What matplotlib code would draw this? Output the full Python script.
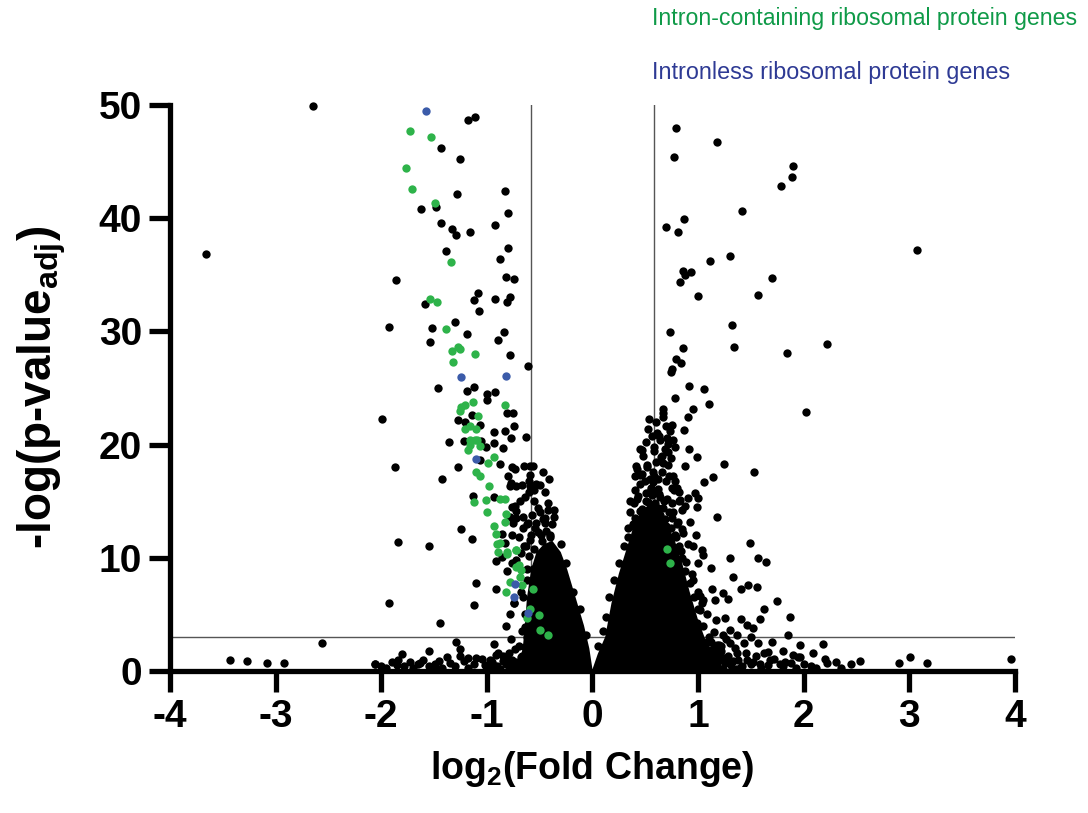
import matplotlib
matplotlib.use("Agg")
import matplotlib.pyplot as plt

plt.rcParams['font.family'] = ['Liberation Sans', 'DejaVu Sans']
plt.rcParams['mathtext.fontset'] = 'custom'
plt.rcParams['mathtext.rm'] = 'Liberation Sans:bold'
plt.rcParams['mathtext.bf'] = 'Liberation Sans:bold'
plt.rcParams['mathtext.default'] = 'bf'
plt.rcParams['axes.unicode_minus'] = False

# --- datos ---
# genes de proteinas ribosomales con intron (verde)
green_x = [-1.725, -1.53, -1.77, -1.71, -1.49, -1.34, -1.54, -1.47, -1.39, -1.33, -1.27, -1.25,
           -1.11, -1.32, -1.13, -1.25, -1.24, -1.21, -0.83, -1.08, -1.16, -1.10, -1.21, -1.16,
           -1.11, -1.09, -1.16, -1.065, -1.18, -0.93, -0.99, -1.10, -1.065, -0.98, -1.12, -1.01,
           -0.88, -0.83, -1.00, -0.82, -0.83, -0.93, -0.91, -0.90, -0.89, -0.81, -0.725, -0.70,
           -0.68, -0.78, -0.67, -0.82, -0.56, -0.59, -0.62, -0.51, -0.875, -0.81, -0.72, -0.69,
           -0.50, -0.42, -0.72, 0.73, 0.71]
green_y = [47.7, 47.2, 44.4, 42.6, 41.3, 36.1, 32.9, 32.6, 30.2, 28.3, 28.6, 28.4,
           28.0, 27.3, 23.8, 23.0, 23.3, 23.5, 23.5, 22.5, 21.6, 21.4, 21.4, 20.4,
           20.4, 20.4, 20.0, 19.9, 19.5, 18.9, 18.4, 17.6, 17.2, 16.3, 14.9, 15.1,
           15.2, 15.2, 14.0, 13.9, 13.2, 12.8, 12.1, 11.2, 10.5, 10.5, 10.7, 9.4,
           8.9, 7.9, 7.6, 6.95, 7.2, 5.5, 4.65, 4.95, 11.3, 10.3, 10.7, 8.3,
           3.6, 3.2, 9.2, 9.5, 10.8]

# genes sin intron (azul)
blue_x = [-1.58, -1.24, -0.815, -1.10, -0.73, -0.74, -0.61]
blue_y = [49.5, 26.0, 26.1, 18.7, 7.7, 6.5, 5.1]

# resto de genes (negro)
black_x = [-2.65, -3.66, -1.18, -1.11, -1.43, -1.25, -1.28, -0.83, -1.48, -1.62, -0.80, -1.43,
           -1.33, -1.29, -1.16, -0.92, -1.39, -0.80, -0.88, -1.86, -0.82, -0.74, -1.08, -1.125,
           -1.59, -0.92, -0.78, -0.81, -1.07, -1.93, -1.52, -1.30, -1.185, -0.835, -1.54, -0.89,
           -0.78, -0.61,
           0.79, 1.18, 0.775, 1.90, 1.89, 1.785, 1.42, 0.87, 0.70, 0.81, 1.30, 1.115, 0.855,
           0.875, 0.93, 0.83, 1.70, 1.00, 1.57, 0.73, 1.32, 0.86, 1.34, 1.84, 0.79, 0.835, 0.75,
           3.07, 2.22, 2.02,
           1.965, 2.185, 1.965, 2.085, 2.07, 2.20, 2.22, 2.305, 2.53, 2.905, 3.01, 3.17, 3.96,
           -3.435, -3.275, -3.08, -2.92, -2.56, -2.06,
           -1.46, -1.12, -1.19, -1.00, -0.92, -1.00, -0.81, -0.755, -1.99, -1.14, -1.27, -1.21,
           -1.065, -0.93, -0.825, -0.745, -0.63, -0.77, -1.36, -1.22, -1.055, -0.93, -1.01,
           -0.845, -1.065, -0.88, -1.27, -1.87, -0.765, -0.734, -0.645, -0.59, -0.56, -0.465,
           -0.41, -1.42, -0.80, -0.59, -0.78, -0.72, -0.67, -0.59, -0.53, -0.60, -1.13, -0.93,
           -0.765, -0.72, -0.78, -0.72, -0.655, -0.75, -0.61, -0.53, -0.45, -1.24, -1.14, -0.86,
           -0.765, -1.845, -1.545, -0.83, -0.91, -0.86, -0.81, -0.765, -1.10, -0.91, -0.74,
           -1.93, -1.125, -1.44, -1.29, -1.545, -1.80, -1.845, -2.06,
           -1.73, -1.63, -1.49, -1.35, -1.255, -1.175, -1.10, -1.02, -0.89, -0.81, -0.72,
           -0.64, -0.62, -0.64,
           0.745, 0.91, 1.06, 0.78, 1.10, 0.95, 0.67, 0.665, 0.535, 0.90, 0.755, 0.865, 0.63,
           0.71, 0.715, 0.915, 0.47, 0.585, 0.715, 0.65, 0.985, 0.41, 0.715, 0.875, 1.245,
           1.53, 0.45, 0.765, 1.14, 1.055, 0.54, 0.575, 0.62, 0.75, 0.80, 0.505, 0.56, 0.64,
           0.83, 0.90, 0.97, 1.00, 0.99, 0.75, 0.53, 0.45, 0.62, 0.845, 1.175, 0.34, 1.49,
           1.30, 1.57, 1.64, 1.035, 1.05, 1.12, 1.33, 1.475, 1.555, 1.41, 1.13, 1.24, 1.28,
           1.16, 1.02, 1.05, 0.83, 1.02, 0.89, 1.17, 1.25, 1.41, 1.46, 1.52, 1.59, 1.87, 1.24,
           1.365, 1.855, 1.175, 1.30, 1.43, 1.57, 1.62, 1.665, 1.90, 1.95,
           1.175, 1.24, 1.30, 1.365, 1.46, 1.52, 1.585, 1.68, 1.775, 1.82,
           0.80, 0.86, 0.92, 0.99, 0.83, 0.92, 1.02, 1.10,
           -0.62, -0.60, -0.55, -0.48, -0.40, -0.52, -0.45, -0.38, -0.58, -0.65, -0.66, -0.64,
           -0.67, -0.70, -0.68, -0.75, -0.30, -0.25, -0.18, -0.12, -0.06, -0.50, -0.42, -0.36,
           -0.55,
           0.40, 0.45, 0.50, 0.58, 0.65, 0.70, 0.78, 0.82, 0.85, 0.88, 0.92, 0.96, 1.00, 1.05,
           1.10, 1.15, 1.20, 0.30, 0.25, 0.20, 0.16, 0.13, 0.10, 0.05, 0.38, 0.34, 0.55,
           0.40, 0.45, 0.50, 0.55, 0.60, 0.68, 0.72, 0.62, 0.55, 0.48, 0.42, 0.58, 0.66, 0.70,
           0.78, 0.82, 0.88, 0.92, 0.98, 0.95, 1.00, 0.60, 0.52, 0.48, 0.40, 0.36, 0.75, 0.80,
           0.85, 0.46, 0.66, 0.74, 0.78, 0.70, 0.56, 0.60,
           -1.95, -1.85, -1.70, -1.60, -1.55, -1.45, -1.42, -1.38, -1.30, -1.22, -1.18, -1.12,
           -1.05, -1.00, -0.95, -0.90, -0.85, -0.80, -0.76, -0.70, -0.66, -1.48, -1.65, -1.78,
           -1.90, -2.00, -1.25, -0.93, -0.77,
           1.18, 1.25, 1.32, 1.38, 1.42, 1.50, 1.55, 1.60, 1.66, 1.72, 1.80, 1.88, 1.93, 2.00,
           1.12, 1.22, 1.28, 1.35, 1.45, 1.08, 1.15, 1.30, 1.50, 1.70, 1.80, 2.12, 2.35, 2.45,
           1.62, 1.75,
           # zona media del ala derecha
           0.36, 0.39, 0.43, 0.47, 0.51, 0.55, 0.59, 0.63, 0.67, 0.71, 0.76, 0.81, 0.86, 0.90,
           0.38, 0.44, 0.49, 0.53, 0.57, 0.64, 0.69, 0.74, 0.79, 0.84, 0.89, 0.94,
           0.42, 0.47, 0.52, 0.57, 0.62, 0.67, 0.72, 0.77, 0.82,
           0.45, 0.51, 0.58, 0.64, 0.69, 0.76, 0.53, 0.61, 0.67, 0.73,
           0.95, 1.00, 1.04, 1.08, 0.97, 1.02, 1.07, 1.12, 1.16, 1.22,
           # zona media del ala izquierda
           -0.40, -0.44, -0.49, -0.54, -0.59, -0.63, -0.68, -0.72, -0.36, -0.42, -0.47, -0.52,
           -0.57, -0.62, -0.66, -0.70, -0.45, -0.50, -0.55, -0.60, -0.64, -0.69, -0.73, -0.77,
           -0.50, -0.56, -0.62, -0.68, -0.74, -0.78, -0.82,
           # banda inferior densa
           -1.00, -0.94, -0.88, -0.82, -0.76, -0.70, -0.97, -0.91, -0.85, -0.79, -0.73, -0.67,
           1.12, 1.18, 1.24, 1.30, 1.36, 1.15, 1.21, 1.27, 1.33, 1.40, 1.20, 1.26]
black_y = [49.9, 36.8, 48.7, 48.9, 46.2, 45.2, 42.1, 42.4, 41.0, 40.8, 40.5, 39.6,
           39.0, 38.5, 38.8, 39.4, 37.1, 37.4, 36.4, 34.5, 34.8, 34.6, 33.4, 32.8,
           32.4, 32.9, 33.0, 32.6, 31.8, 30.4, 30.3, 30.8, 29.8, 29.9, 29.1, 29.2,
           27.9, 26.9,
           48.0, 46.7, 45.4, 44.6, 43.6, 42.8, 40.6, 39.9, 39.2, 38.8, 36.7, 36.2, 35.3,
           35.0, 35.2, 34.4, 34.7, 33.1, 33.2, 29.9, 30.6, 28.5, 28.6, 28.1, 27.6, 27.2, 26.7,
           37.2, 28.9, 22.9,
           2.3, 2.4, 1.2, 1.56, 0.44, 1.03, 0.68, 0.8, 0.88, 0.73, 1.24, 0.73, 1.06,
           0.94, 0.88, 0.73, 0.68, 2.47, 0.65,
           25.0, 25.1, 24.7, 24.5, 24.6, 23.9, 22.8, 22.8, 22.3, 22.6, 22.2, 22.0,
           21.7, 21.1, 21.2, 21.6, 20.7, 20.6, 20.2, 20.3, 20.3, 20.1, 19.8,
           19.7, 18.6, 18.3, 18.0, 18.0, 18.05, 17.8, 18.1, 18.1, 18.1, 17.6,
           17.0, 17.0, 17.2, 17.3, 16.3, 16.3, 16.4, 16.3, 16.5, 15.8, 15.5, 15.4,
           14.5, 14.1, 13.6, 13.5, 13.6, 13.05, 13.05, 13.05, 13.05, 12.5, 11.7, 12.1,
           12.0, 11.4, 11.0, 11.3, 9.7, 10.1, 8.8, 9.5, 7.8, 7.2, 6.0,
           6.0, 5.8, 4.2, 2.6, 1.8, 1.5, 0.97, 0.62,
           0.82, 0.68, 0.62, 0.68, 1.33, 1.12, 1.12, 0.53, 1.56, 0.97, 0.82,
           2.15, 3.0, 3.9,
           26.4, 25.2, 24.9, 24.1, 23.6, 23.1, 23.1, 22.8, 22.3, 22.4, 21.7, 21.3, 20.8,
           20.6, 20.05, 19.6, 19.5, 19.8, 19.3, 18.9, 18.9, 18.1, 18.2, 18.1, 18.3,
           17.55, 17.3, 17.2, 17.1, 16.7, 17.0, 16.7, 16.1, 16.2, 16.2, 15.7, 15.55, 15.4,
           15.1, 15.3, 15.7, 15.25, 14.5, 14.8, 14.95, 14.1, 14.4, 14.2, 13.6, 12.6, 11.3,
           10.0, 10.0, 9.6, 10.7, 10.25, 9.1, 8.3, 7.6, 7.4, 7.2, 7.2, 6.9, 6.4,
           6.3, 6.6, 6.3, 6.5, 5.4, 5.2, 4.5, 4.7, 4.6, 4.1, 3.8, 4.6, 4.8, 3.2,
           3.2, 3.2, 2.3, 2.45, 2.45, 2.45, 1.56, 1.7, 1.4, 1.26,
           1.26, 1.12, 0.82, 1.56, 0.97, 0.82, 0.62, 0.97, 0.62, 0.82,
           4.8, 4.2, 3.9, 4.2, 2.6, 2.15, 2.45, 1.86,
           9.0, 10.2, 10.8, 11.5, 12.0, 12.3, 13.5, 13.0, 12.0, 11.0, 6.5, 5.0,
           3.5, 2.2, 1.2, 0.6, 11.2, 9.5, 7.0, 5.5, 3.2, 14.0, 14.8, 14.2,
           15.0,
           13.5, 13.0, 13.8, 13.5, 13.0, 12.8, 12.0, 11.0, 10.0, 8.8, 7.8, 6.5, 5.5, 4.0,
           3.0, 2.0, 1.0, 11.0, 9.5, 8.0, 6.5, 4.8, 3.5, 2.2, 12.8, 11.8, 11.8,
           16.0, 16.5, 16.8, 16.2, 15.8, 15.0, 14.0, 14.2, 14.5, 14.0, 15.2, 17.2, 17.6, 16.8,
           16.8, 15.8, 14.6, 13.2, 12.0, 11.0, 9.5, 18.5, 18.0, 19.0, 17.2, 15.0, 13.5, 13.0,
           12.5, 12.8, 19.0, 18.8, 19.8, 21.6, 20.8, 22.0,
           0.3, 0.5, 0.3, 1.0, 0.4, 0.9, 0.3, 1.2, 0.4, 0.9, 0.3, 0.6,
           1.1, 0.3, 0.8, 0.4, 1.3, 0.5, 1.0, 0.3, 0.8, 0.2, 0.6, 0.4,
           0.8, 0.4, 1.9, 2.4, 2.8,
           0.4, 0.7, 0.3, 1.0, 0.4, 0.6, 1.3, 0.3, 0.5, 1.1, 0.4, 0.7, 0.3, 0.6,
           1.5, 1.8, 1.3, 2.0, 1.6, 2.6, 3.4, 3.6, 3.0, 2.6, 1.8, 0.3, 0.3, 0.6,
           5.5, 6.2,
           14.0, 14.8, 15.5, 14.3, 15.0, 16.0, 14.8, 15.6, 14.4, 15.2, 14.0, 13.2, 12.2, 11.2,
           13.0, 12.6, 13.4, 14.0, 13.0, 13.8, 13.4, 12.6, 11.8, 10.6, 9.6, 8.6,
           17.8, 17.4, 18.2, 17.6, 17.0, 18.4, 17.2, 16.0, 15.0,
           19.6, 20.2, 19.4, 20.4, 19.6, 20.4, 21.4, 21.0, 22.4, 21.2,
           8.0, 7.0, 6.0, 5.0, 3.8, 2.8, 2.0, 2.6, 1.8, 2.2,
           11.8, 12.4, 12.0, 12.6, 11.6, 11.0, 10.4, 9.8, 13.6, 14.2, 13.4, 14.4,
           13.8, 13.0, 12.6, 11.8, 15.8, 16.4, 16.0, 16.8, 15.4, 15.0, 14.6, 16.6,
           9.8, 9.0, 8.0, 7.0, 6.0, 5.0, 4.0,
           0.2, 0.5, 0.2, 0.6, 0.3, 0.5, 1.0, 1.4, 0.9, 1.6, 1.9, 1.3,
           0.2, 0.5, 0.2, 0.6, 0.2, 1.0, 1.4, 1.1, 0.9, 0.3, 2.3, 2.8]

# zona saturada de puntos (contorno)
core_left_x = [0.0, -0.03, -0.08, -0.16, -0.24, -0.30, -0.38, -0.46, -0.53, -0.58, -0.62,
               -0.64, -0.66, -0.70, -0.75, 0.0]
core_left_y = [0.15, 2.0, 4.0, 6.5, 9.0, 10.5, 11.5, 11.2, 10.5, 9.0, 6.5,
               4.0, 2.0, 0.6, 0.0, 0.0]
core_right_x = [0.0, 0.05, 0.12, 0.18, 0.25, 0.32, 0.38, 0.44, 0.52, 0.60, 0.70, 0.78, 0.85,
                0.92, 1.00, 1.08, 1.15, 1.22, 1.18, 0.0]
core_right_y = [0.15, 1.5, 3.0, 6.0, 8.6, 10.7, 12.5, 13.8, 14.6, 14.2, 13.2, 11.5, 9.5,
                7.0, 4.5, 2.5, 1.0, 0.3, 0.0, 0.0]

fc_cut = 0.585
p_cut = 3

fig = plt.figure(figsize=(10.88, 8.13), dpi=100)
ax = fig.add_axes([0.1562, 0.1747, 0.7767, 0.6962])

ax.axvline(-fc_cut, color='#555555', lw=1, zorder=1)
ax.axvline(fc_cut, color='#555555', lw=1, zorder=1)
ax.axhline(p_cut, color='#555555', lw=1, zorder=1)

ax.fill(core_left_x, core_left_y, color='black', lw=0, zorder=2)
ax.fill(core_right_x, core_right_y, color='black', lw=0, zorder=2)
ax.scatter(black_x, black_y, s=36, color='black', lw=0, zorder=3, clip_on=False)
ax.scatter(green_x, green_y, s=36, color='#2eb34a', lw=0, zorder=4)
ax.scatter(blue_x, blue_y, s=36, color='#3b5ba9', lw=0, zorder=4)

ax.set_xlim(-4, 4)
ax.set_ylim(0, 50)
ax.set_xticks(range(-4, 5))
ax.set_yticks(range(0, 51, 10))
ax.spines['top'].set_visible(False)
ax.spines['right'].set_visible(False)
ax.spines['left'].set_linewidth(3.8)
ax.spines['bottom'].set_linewidth(3.8)
ax.tick_params(width=3.8, length=15, labelsize=28, pad=5)
for lab in ax.get_xticklabels() + ax.get_yticklabels():
    lab.set_fontweight('bold')

ax.set_xlabel('log$_{2}$(Fold Change)', fontsize=27, fontweight='bold', labelpad=10)
ax.set_ylabel('-log(p-value$_{adj}$)', fontsize=33, fontweight='bold', labelpad=22)

fig.text(0.599, 0.977, 'Intron-containing ribosomal protein genes', color='#0f9a48',
         fontsize=16.7, ha='left', va='center')
fig.text(0.599, 0.911, 'Intronless ribosomal protein genes', color='#2e3a94',
         fontsize=16.8, ha='left', va='center')

fig.savefig('out.png', dpi=100)
